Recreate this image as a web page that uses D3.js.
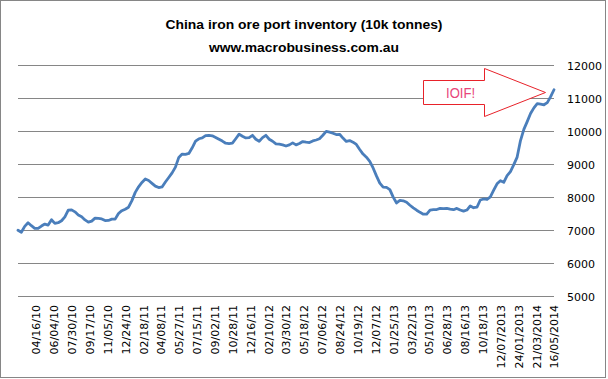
<!DOCTYPE html>
<html>
<head>
<meta charset="utf-8">
<script src="https://cdn.jsdelivr.net/npm/d3@7"></script>
<style>
  html, body { margin: 0; padding: 0; background: #fff; }
  svg { display: block; }
</style>
</head>
<body>
<svg id="chart" width="608" height="379"></svg>
<script>
// ---- data ----
const titleLines = ["China iron ore port inventory (10k tonnes)", "www.macrobusiness.com.au"];
const inventory = [
  6990, 6930, 7110, 7220, 7130, 7050, 7050, 7120, 7180, 7150,
  7310, 7200, 7220, 7280, 7400, 7600, 7610, 7550, 7455, 7400,
  7305, 7240, 7270, 7360, 7350, 7335, 7285, 7290, 7330, 7330,
  7500, 7585, 7630, 7690, 7890, 8140, 8310, 8440, 8545, 8500,
  8415, 8330, 8285, 8305, 8455, 8590, 8730, 8905, 9200, 9300,
  9290, 9320, 9490, 9690, 9765, 9790, 9860, 9868, 9855, 9805,
  9750, 9695, 9630, 9615, 9630, 9765, 9905, 9840, 9790, 9800,
  9870, 9750, 9690, 9800, 9870, 9750, 9690, 9610, 9600, 9578,
  9545, 9580, 9640, 9580, 9620, 9680, 9660, 9650, 9700, 9728,
  9765, 9870, 9987, 9965, 9933, 9893, 9900, 9785, 9685, 9710,
  9662, 9592, 9440, 9300, 9205, 9080, 8880, 8640, 8420, 8300,
  8290, 8225, 7995, 7820, 7895, 7885, 7840, 7750, 7670, 7600,
  7535, 7480, 7480, 7605, 7620, 7620, 7655, 7645, 7655, 7630,
  7615, 7655, 7605, 7570, 7605, 7730, 7675, 7690, 7910, 7940,
  7925, 8005, 8205, 8400, 8495, 8445, 8650, 8770, 8980, 9210,
  9710, 10050, 10285, 10530, 10700, 10830, 10815, 10795, 10860, 11040,
  11250
];
const xLabels = [
  "04/16/10","06/04/10","07/30/10","09/17/10","11/05/10","12/24/10",
  "02/18/11","04/08/11","05/27/11","07/15/11","09/02/11","10/28/11",
  "12/16/11","02/10/12","03/30/12","05/18/12","07/06/12","08/24/12",
  "10/19/12","12/07/12","01/25/13","03/22/13","05/10/13","06/28/13",
  "08/16/13","10/18/13","12/07/2013","24/01/2013","21/03/2014","16/05/2014"
];
const yTicks = [5000, 6000, 7000, 8000, 9000, 10000, 11000, 12000];
const totalWeeks = 210;     // span of the series, in weeks
const labelEveryWeeks = 7;  // one category label every 7 weeks
const annotationText = "IOIF!";
// arrow annotation in data space (weeks, value)
const arrowWeeks = { tail: 158.8, neck: 182.4, tip: 206.4, text: 167.7 };
const arrowValues = { headTop: 11915, bodyTop: 11539, mid: 11188, bodyBottom: 10827, headBottom: 10448, text: 11006 };

// ---- chart ----
(function () {
const svg = d3.select("#chart");
const W = 608, H = 379;
const plotLeft = 18, plotRight = 554, plotTop = 65, plotBottom = 296;

svg.append("rect").attr("x", 0).attr("y", 0).attr("width", W).attr("height", H).attr("fill", "#fff");
svg.append("rect").attr("x", 0.5).attr("y", 0.5).attr("width", 605).attr("height", 377)
  .attr("fill", "none").attr("stroke", "#868686").attr("stroke-width", 1);

const x = d3.scaleLinear().domain([0, totalWeeks]).range([plotLeft, plotRight]);
const y = d3.scaleLinear().domain([5000, 12000]).range([plotBottom, plotTop]);

// titles
const tt = svg.append("g").attr("font-family", "Liberation Sans, Arial, sans-serif")
  .attr("font-weight", "bold").attr("fill", "#000").attr("text-anchor", "middle");
tt.append("text").attr("x", 304).attr("y", 29).attr("font-size", 13.5)
  .attr("textLength", 277).attr("lengthAdjust", "spacingAndGlyphs").text(titleLines[0]);
tt.append("text").attr("x", 304).attr("y", 52).attr("font-size", 13.5)
  .attr("textLength", 190).attr("lengthAdjust", "spacingAndGlyphs").text(titleLines[1]);

// gridlines
svg.append("g").selectAll("line").data(yTicks).join("line")
  .attr("x1", plotLeft).attr("x2", plotRight)
  .attr("y1", d => Math.round(y(d)) + 0.5).attr("y2", d => Math.round(y(d)) + 0.5)
  .attr("stroke", "#868686").attr("stroke-width", 1);

// y axis labels (right side)
const yAxis = d3.axisRight(y).tickValues(yTicks).tickSize(0).tickPadding(0).tickFormat(d3.format("d"));
const gy = svg.append("g").attr("transform", `translate(567,0.5)`).call(yAxis);
gy.select(".domain").remove();
gy.selectAll("text").attr("font-family", "DejaVu Sans, Verdana, sans-serif")
  .attr("font-size", 11).attr("fill", "#000");

// x labels
const labelWeeks = xLabels.map((_, i) => labelEveryWeeks * (i + 1));
const xAxis = d3.axisBottom(x).tickValues(labelWeeks).tickSize(0).tickPadding(0)
  .tickFormat((d, i) => xLabels[i]);
const gx = svg.append("g").attr("transform", `translate(0,305)`).call(xAxis);
gx.select(".domain").remove();
gx.selectAll("text")
  .attr("font-family", "DejaVu Sans, Verdana, sans-serif").attr("font-size", 11).attr("fill", "#000")
  .attr("text-anchor", "end").attr("transform", "rotate(-90)")
  .attr("x", 0).attr("y", 0).attr("dy", "0.36em");

// series line
const n = inventory.length;
const line = d3.line()
  .x((d, i) => x(i * totalWeeks / (n - 1)))
  .y(d => y(d));
svg.append("path").datum(inventory).attr("d", line)
  .attr("fill", "none").attr("stroke", "#4A7EBB").attr("stroke-width", 2.8)
  .attr("stroke-linejoin", "round").attr("stroke-linecap", "round");

// arrow annotation
const aw = arrowWeeks, av = arrowValues;
const arrowPts = [
  [aw.tail, av.bodyTop], [aw.neck, av.bodyTop], [aw.neck, av.headTop], [aw.tip, av.mid],
  [aw.neck, av.headBottom], [aw.neck, av.bodyBottom], [aw.tail, av.bodyBottom]
].map(([w, v]) => [Math.round(x(w)) + 0.5, Math.round(y(v)) + 0.5]);
svg.append("path").attr("d", "M" + arrowPts.map(p => p.join(",")).join("L") + "Z")
  .attr("fill", "#fff").attr("stroke", "#E8222A").attr("stroke-width", 1);
svg.append("text").attr("x", x(aw.text)).attr("y", y(av.text))
  .attr("font-family", "Liberation Sans, Arial, sans-serif").attr("font-size", 14.5)
  .attr("fill", "#E8457A").attr("textLength", 29).attr("lengthAdjust", "spacingAndGlyphs")
  .text(annotationText);
})();
</script>
</body>
</html>
